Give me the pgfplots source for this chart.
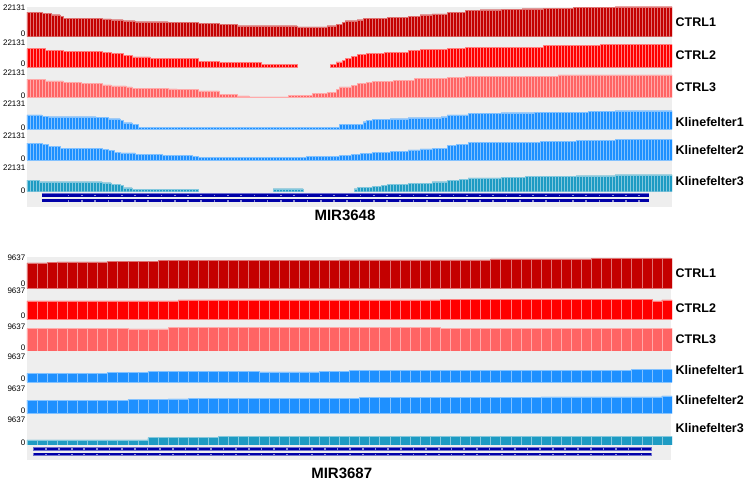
\documentclass[border=0pt]{standalone}
\usepackage{fontspec}
\setmainfont{Liberation Sans}
\usepackage{pgfplots}
\usepackage{pgfplotstable}
\pgfplotsset{compat=1.18}
\definecolor{cA}{HTML}{C40000}
\definecolor{cB}{HTML}{FF0000}
\definecolor{cC}{HTML}{FF6464}
\definecolor{cK}{HTML}{1E90FF}
\definecolor{cKt}{HTML}{1E9BC3}
\definecolor{bgray}{HTML}{EEEEEE}
\definecolor{navy}{HTML}{0000A8}
\definecolor{navyedge}{HTML}{7070D0}

% ---------- MIR3648 (215 bins) ----------
\pgfplotstableread[row sep=\\]{y\\
18220\\18220\\18220\\18220\\18220\\
17480\\17480\\17480\\
16230\\16230\\16230\\
14980\\
13790\\13790\\13790\\13790\\13790\\13790\\13790\\13790\\13790\\13790\\13790\\13790\\13790\\
13060\\13060\\13060\\
12540\\12540\\12540\\12540\\
11800\\11800\\11800\\11800\\
11070\\11070\\11070\\11070\\11070\\11070\\11070\\11070\\11070\\11070\\11070\\
10550\\10550\\10550\\10550\\10550\\10550\\10550\\10550\\10550\\10550\\
9810\\9810\\9810\\9810\\9810\\9810\\9810\\
9070\\9070\\9070\\9070\\9070\\9070\\
8110\\8110\\8110\\8110\\8110\\8110\\8110\\8110\\8110\\8110\\8110\\8110\\8110\\8110\\8110\\8110\\8110\\8110\\8110\\8110\\
7160\\7160\\7160\\7160\\7160\\7160\\7160\\7160\\7160\\7160\\
8110\\8110\\8110\\
9070\\9070\\
10550\\
11800\\11800\\11800\\11800\\
12540\\12540\\
13500\\13500\\13500\\13500\\13500\\13500\\13500\\13500\\
14240\\14240\\14240\\14240\\14240\\14240\\14240\\
14980\\14980\\14980\\14980\\
16230\\16230\\16230\\16230\\
16750\\16750\\16750\\16750\\16750\\
18220\\18220\\18220\\18220\\18220\\18220\\
19400\\19400\\19400\\19400\\19400\\
19920\\19920\\19920\\19920\\19920\\19920\\19920\\
20430\\20430\\20430\\20430\\20430\\20430\\20430\\
20660\\20660\\20660\\20660\\20660\\20660\\20660\\
21170\\21170\\21170\\21170\\21170\\21170\\21170\\21170\\21170\\21170\\
21610\\21610\\21610\\21610\\21610\\21610\\21610\\21610\\21610\\21610\\21610\\21610\\21610\\21610\\
22131\\22131\\22131\\22131\\22131\\22131\\22131\\22131\\22131\\22131\\22131\\22131\\22131\\22131\\22131\\22131\\22131\\22131\\22131\\
}\tAa

\pgfplotstableread[row sep=\\]{y\\
13570\\13570\\13570\\13570\\13570\\13570\\
12320\\12320\\12320\\12320\\12320\\12320\\
11580\\11580\\11580\\11580\\11580\\11580\\11580\\11580\\11580\\11580\\11580\\11580\\11580\\
10620\\10620\\10620\\
9890\\9890\\9890\\9890\\
8630\\8630\\8630\\
7380\\7380\\7380\\7380\\7380\\7380\\
6420\\6420\\6420\\6420\\6420\\6420\\6420\\6420\\6420\\6420\\6420\\6420\\6420\\6420\\6420\\6420\\
4200\\4200\\4200\\4200\\4200\\4200\\4200\\
3470\\3470\\3470\\3470\\3470\\3470\\3470\\3470\\3470\\3470\\3470\\3470\\3470\\3470\\
1990\\1990\\1990\\1990\\1990\\1990\\1990\\1990\\1990\\1990\\1990\\1990\\
0\\0\\0\\0\\0\\0\\0\\0\\0\\0\\0\\
1990\\1990\\
3690\\3690\\
4940\\
6640\\6640\\
7890\\7890\\
9150\\9150\\9150\\
10110\\10110\\10110\\10110\\10110\\10110\\
10840\\10840\\10840\\10840\\10840\\10840\\10840\\10840\\
12100\\12100\\12100\\12100\\
12840\\12840\\12840\\12840\\12840\\12840\\12840\\12840\\12840\\
13790\\13790\\13790\\13790\\13790\\13790\\
14750\\14750\\14750\\14750\\14750\\14750\\14750\\14750\\14750\\14750\\14750\\14750\\14750\\14750\\14750\\14750\\14750\\14750\\14750\\14750\\14750\\14750\\14750\\14750\\14750\\14750\\
16010\\16010\\16010\\16010\\16010\\16010\\16010\\16010\\16010\\16010\\16010\\16010\\16010\\16010\\16010\\16010\\16010\\16010\\16010\\
16520\\16520\\16520\\16520\\16520\\16520\\16520\\16520\\16520\\16520\\16520\\16520\\16520\\16520\\16520\\16520\\16520\\16520\\16520\\16520\\16520\\16520\\16520\\16520\\
}\tAb

\pgfplotstableread[row sep=\\]{y\\
13570\\13570\\13570\\13570\\13570\\13570\\
12320\\12320\\12320\\12320\\12320\\12320\\
11070\\11070\\11070\\11070\\11070\\11070\\
10330\\10330\\10330\\10330\\10330\\10330\\10330\\
9370\\9370\\9370\\
8630\\8630\\8630\\8630\\8630\\
7890\\7890\\
6930\\6930\\6930\\6930\\6930\\6930\\6930\\6930\\6930\\6930\\6930\\6930\\
6420\\6420\\6420\\
6200\\6200\\6200\\6200\\6200\\6200\\6200\\
4940\\4940\\4940\\4940\\4940\\4940\\4940\\
2510\\2510\\2510\\2510\\2510\\2510\\
1250\\1250\\1250\\1250\\
520\\520\\520\\520\\520\\520\\520\\520\\520\\520\\520\\520\\520\\
1770\\1770\\1770\\1770\\1770\\1770\\1770\\1770\\
2950\\2950\\2950\\2950\\2950\\
3980\\3980\\3980\\
6200\\
7890\\7890\\7890\\7890\\
8850\\8850\\
10330\\10330\\10330\\
11360\\11360\\
12100\\12100\\12100\\12100\\12100\\12100\\12100\\
12840\\12840\\12840\\12840\\12840\\12840\\12840\\
14020\\14020\\14020\\14020\\14020\\14020\\14020\\14020\\14020\\14020\\14020\\
14750\\14750\\14750\\14750\\14750\\14750\\
15790\\15790\\15790\\15790\\15790\\15790\\15790\\15790\\15790\\15790\\15790\\15790\\15790\\15790\\15790\\15790\\15790\\15790\\15790\\15790\\15790\\15790\\15790\\15790\\15790\\15790\\15790\\15790\\15790\\15790\\15790\\
16750\\16750\\16750\\16750\\16750\\16750\\16750\\16750\\16750\\16750\\16750\\16750\\16750\\16750\\16750\\16750\\16750\\16750\\16750\\16750\\16750\\16750\\16750\\16750\\16750\\16750\\16750\\16750\\16750\\16750\\16750\\16750\\16750\\16750\\16750\\16750\\16750\\16750\\
}\tAc

\pgfplotstableread[row sep=\\]{y\\
10330\\10330\\10330\\10330\\10330\\
9590\\9590\\
9070\\9070\\9070\\9070\\9070\\9070\\9070\\9070\\9070\\9070\\9070\\9070\\9070\\9070\\9070\\9070\\
8630\\8630\\8630\\8630\\
7600\\7600\\7600\\7600\\
6640\\
4650\\4650\\4650\\
3470\\3470\\
1250\\1250\\1250\\1250\\1250\\1250\\1250\\1250\\1250\\1250\\1250\\1250\\1250\\1250\\1250\\1250\\1250\\1250\\1250\\1250\\
1250\\1250\\1250\\1250\\1250\\1250\\1250\\1250\\1250\\1250\\1250\\1250\\1250\\1250\\1250\\1250\\1250\\1250\\1250\\1250\\
1250\\1250\\1250\\1250\\1250\\1250\\1250\\1250\\1250\\1250\\1250\\1250\\1250\\1250\\1250\\1250\\1250\\1250\\1250\\1250\\
1250\\1250\\1250\\1250\\1250\\1250\\1250\\
3470\\3470\\3470\\3470\\3470\\3470\\3470\\3470\\
5390\\
6420\\6420\\
7160\\7160\\7160\\7160\\7160\\7160\\
7600\\7600\\7600\\7600\\7600\\7600\\
8340\\8340\\8340\\8340\\8340\\8340\\8340\\8340\\8340\\8340\\8340\\
9070\\9070\\
10330\\10330\\10330\\10330\\10330\\10330\\10330\\
11580\\11580\\11580\\11580\\11580\\11580\\11580\\11580\\11580\\11580\\11580\\
12020\\12020\\12020\\12020\\12020\\12020\\12020\\12020\\12020\\12020\\12020\\
12540\\12540\\12540\\12540\\12540\\12540\\12540\\12540\\12540\\12540\\12540\\12540\\12540\\12540\\12540\\12540\\12540\\12540\\
13060\\13060\\13060\\13060\\13060\\13060\\13060\\13060\\13060\\
13500\\13500\\13500\\13500\\13500\\13500\\13500\\13500\\13500\\13500\\13500\\13500\\13500\\13500\\13500\\13500\\13500\\13500\\13500\\
}\tAd

\pgfplotstableread[row sep=\\]{y\\
12760\\12760\\12760\\12760\\12760\\
11800\\11800\\
10550\\10550\\10550\\10550\\
8630\\8630\\8630\\8630\\8630\\8630\\8630\\8630\\8630\\8630\\8630\\8630\\8630\\8630\\
7890\\7890\\
7380\\7380\\
6120\\6120\\
5390\\5390\\5390\\5390\\5390\\
4200\\4200\\4200\\4200\\4200\\4200\\4200\\4200\\4200\\
3690\\3690\\3690\\3690\\3690\\3690\\3690\\3690\\3690\\3690\\
2950\\2950\\
1990\\1990\\1990\\1990\\1990\\1990\\1990\\1990\\1990\\1990\\1990\\1990\\1990\\1990\\1990\\1990\\1990\\1990\\
1990\\1990\\1990\\1990\\1990\\1990\\1990\\1990\\1990\\1990\\1990\\1990\\1990\\1990\\1990\\1990\\1990\\1990\\
2950\\2950\\2950\\2950\\2950\\2950\\2950\\2950\\2950\\2950\\2950\\
3690\\3690\\3690\\3690\\
4430\\4430\\4430\\
5160\\5160\\5160\\5160\\
6120\\6120\\6120\\6120\\6120\\6120\\
6860\\6860\\6860\\6860\\6860\\6860\\
7600\\7600\\7600\\7600\\
8340\\8340\\8340\\8340\\
9070\\9070\\9070\\9070\\9070\\
11070\\11070\\11070\\
12020\\12020\\12020\\12020\\
13060\\13060\\13060\\13060\\13060\\13060\\13060\\13060\\13060\\13060\\13060\\
13280\\13280\\13280\\13280\\13280\\13280\\13280\\13280\\13280\\13280\\13280\\13280\\13280\\
14020\\14020\\14020\\14020\\14020\\14020\\14020\\14020\\14020\\14020\\14020\\14020\\
14530\\14530\\14530\\14530\\14530\\14530\\14530\\14530\\14530\\14530\\14530\\14530\\14530\\
15270\\15270\\15270\\15270\\15270\\15270\\15270\\15270\\15270\\15270\\15270\\15270\\15270\\15270\\15270\\15270\\15270\\15270\\15270\\
}\tAe

\pgfplotstableread[row sep=\\]{y\\
8630\\8630\\8630\\8630\\
7380\\7380\\7380\\7380\\7380\\7380\\7380\\7380\\7380\\7380\\7380\\7380\\7380\\7380\\7380\\7380\\7380\\7380\\7380\\7380\\7380\\
6640\\6640\\6640\\
5680\\5680\\5680\\
4940\\
2950\\2950\\2950\\
1770\\1770\\1770\\1770\\1770\\1770\\1770\\1770\\1770\\1770\\1770\\1770\\1770\\1770\\1770\\1770\\1770\\1770\\1770\\1770\\1770\\1770\\
0\\0\\0\\0\\0\\0\\0\\0\\0\\0\\0\\0\\0\\0\\0\\0\\0\\0\\0\\0\\0\\0\\0\\0\\0\\
2210\\2210\\2210\\2210\\2210\\2210\\2210\\2210\\2210\\2210\\
0\\0\\0\\0\\0\\0\\0\\0\\0\\0\\0\\0\\0\\0\\0\\0\\0\\
2210\\
3250\\3250\\3250\\3250\\3250\\
4200\\4200\\4200\\
4940\\4940\\
5680\\5680\\5680\\5680\\5680\\5680\\5680\\
6120\\6120\\6120\\6120\\6120\\6120\\6120\\6120\\
7380\\7380\\7380\\7380\\7380\\
8630\\8630\\8630\\8630\\
9070\\9070\\9070\\
10110\\10110\\10110\\10110\\10110\\10110\\10110\\10110\\10110\\10110\\10110\\
10550\\10550\\10550\\10550\\10550\\10550\\10550\\10550\\
11290\\11290\\11290\\11290\\11290\\11290\\11290\\11290\\11290\\11290\\11290\\11290\\11290\\11290\\11290\\11290\\11290\\
11800\\11800\\11800\\11800\\11800\\11800\\11800\\11800\\11800\\11800\\11800\\11800\\11800\\
12540\\12540\\12540\\12540\\12540\\12540\\12540\\12540\\12540\\12540\\12540\\12540\\12540\\12540\\12540\\12540\\12540\\12540\\12540\\
}\tAf

% ---------- MIR3687 (64 bins) ----------
\pgfplotstableread[row sep=\\]{y\\
7810\\7810\\7930\\8110\\8110\\8110\\8110\\8110\\
8330\\8330\\8330\\8330\\8330\\8540\\8540\\8540\\8540\\8540\\8540\\8540\\
8630\\8630\\8630\\8630\\8630\\8630\\8630\\8630\\8630\\8630\\8630\\
8780\\8780\\8780\\8780\\8780\\8780\\8780\\8780\\8780\\8780\\8780\\8780\\8780\\8780\\8780\\
9030\\9030\\9030\\9030\\9030\\9030\\9030\\9030\\9030\\9030\\
9150\\9150\\9150\\9150\\9150\\9150\\9150\\9150\\
}\tBa
\pgfplotstableread[row sep=\\]{y\\
5800\\5800\\5800\\5800\\5800\\5800\\5800\\5800\\5800\\5800\\5800\\5800\\5800\\5800\\5800\\
6100\\6100\\6100\\6100\\6100\\6100\\6100\\6100\\6100\\6100\\6100\\6100\\6100\\6100\\6100\\6100\\6100\\6100\\6100\\6100\\6100\\6100\\6100\\6100\\6100\\6100\\
6310\\6310\\6310\\6310\\6310\\6310\\6310\\6310\\6310\\6310\\6310\\6310\\6310\\6310\\6310\\6310\\6310\\6310\\6310\\6310\\6310\\
5800\\6100\\
}\tBb
\pgfplotstableread[row sep=\\]{y\\
6830\\6830\\6830\\6830\\6830\\6830\\6830\\6830\\6830\\6830\\
6750\\6750\\6750\\6750\\
7140\\7140\\7140\\7140\\7140\\7140\\7140\\7140\\7140\\7140\\7140\\7140\\7140\\7140\\7140\\7140\\7140\\7140\\7140\\7140\\7140\\7140\\7140\\7140\\7140\\7140\\7140\\
6920\\6920\\6920\\6920\\6920\\6920\\6920\\6920\\6920\\6920\\6920\\6920\\6920\\6920\\6920\\6920\\6920\\6920\\6920\\6920\\6920\\6920\\6920\\
}\tBc
\pgfplotstableread[row sep=\\]{y\\
2750\\2750\\2750\\2750\\2750\\2750\\2750\\2750\\
3050\\3050\\3050\\3050\\
3260\\3260\\3260\\3260\\3260\\3260\\3260\\3260\\3260\\3260\\3260\\
3200\\3200\\3200\\3200\\3200\\3200\\
3350\\3350\\3350\\
3560\\3560\\3560\\3560\\3560\\3560\\3560\\3560\\3560\\3560\\3560\\3560\\3560\\3560\\3560\\3560\\3560\\3560\\3560\\
3660\\3660\\3660\\3660\\3660\\3660\\3660\\3660\\3660\\
3870\\3870\\3870\\3870\\
}\tBd
\pgfplotstableread[row sep=\\]{y\\
4090\\4090\\4090\\4090\\4090\\4090\\4090\\4090\\4090\\4090\\
4270\\4270\\4270\\4270\\
4480\\4480\\
4580\\4580\\4580\\4580\\4580\\4580\\
4700\\4700\\4700\\4700\\4700\\4700\\4700\\4700\\4700\\4700\\4700\\
5000\\5000\\5000\\5000\\5000\\5000\\5000\\5000\\5000\\5000\\5000\\5000\\5000\\5000\\5000\\5000\\5000\\5000\\
5090\\5090\\5090\\5090\\5090\\5090\\5090\\5090\\5090\\5090\\5090\\5090\\
5400\\
}\tBe
\pgfplotstableread[row sep=\\]{y\\
1530\\1530\\1530\\1530\\1530\\1530\\1530\\1530\\1530\\1530\\1530\\1530\\
2230\\2230\\2230\\2230\\2230\\2230\\2230\\
2590\\2590\\2590\\2590\\2590\\2590\\2590\\2590\\2590\\2590\\2590\\2590\\2590\\2590\\2590\\
2590\\2590\\2590\\2590\\2590\\2590\\2590\\2590\\2590\\2590\\2590\\2590\\2590\\2590\\2590\\
2590\\2590\\2590\\2590\\2590\\2590\\2590\\2590\\2590\\2590\\2590\\2590\\2590\\2590\\2590\\
}\tBf

% gene-model strand marks: x position (px along panel), row A and row B heights
\pgfplotstableread{
x a b
68.3 8.7 3.5
81.6 8.7 3.5
94.8 8.7 3.5
108.1 8.7 3.5
121.4 8.7 3.5
134.7 8.7 3.5
147.9 8.7 3.5
161.2 8.7 3.5
174.5 8.7 3.5
187.7 8.7 3.5
201.0 8.7 3.5
214.3 8.7 3.5
227.5 8.7 3.5
240.8 8.7 3.5
254.1 8.7 3.5
267.3 8.7 3.5
280.6 8.7 3.5
293.9 8.7 3.5
307.2 8.7 3.5
320.4 8.7 3.5
333.7 8.7 3.5
347.0 8.7 3.5
360.2 8.7 3.5
373.5 8.7 3.5
386.8 8.7 3.5
400.0 8.7 3.5
413.3 8.7 3.5
426.6 8.7 3.5
439.9 8.7 3.5
453.1 8.7 3.5
466.4 8.7 3.5
479.7 8.7 3.5
492.9 8.7 3.5
506.2 8.7 3.5
519.5 8.7 3.5
532.7 8.7 3.5
546.0 8.7 3.5
559.3 8.7 3.5
572.5 8.7 3.5
585.8 8.7 3.5
599.1 8.7 3.5
612.4 8.7 3.5
625.6 8.7 3.5
638.9 8.7 3.5
}\gA
\pgfplotstableread{
x a b
46.0 10 4.7
58.6 10 4.7
71.3 10 4.7
83.9 10 4.7
96.6 10 4.7
109.2 10 4.7
121.8 10 4.7
134.5 10 4.7
147.1 10 4.7
159.8 10 4.7
172.4 10 4.7
185.0 10 4.7
197.7 10 4.7
210.3 10 4.7
223.0 10 4.7
235.6 10 4.7
248.2 10 4.7
260.9 10 4.7
273.5 10 4.7
286.2 10 4.7
298.8 10 4.7
311.4 10 4.7
324.1 10 4.7
336.7 10 4.7
349.4 10 4.7
362.0 10 4.7
374.6 10 4.7
387.3 10 4.7
399.9 10 4.7
412.6 10 4.7
425.2 10 4.7
437.8 10 4.7
450.5 10 4.7
463.1 10 4.7
475.8 10 4.7
488.4 10 4.7
501.0 10 4.7
513.7 10 4.7
526.3 10 4.7
539.0 10 4.7
551.6 10 4.7
564.2 10 4.7
576.9 10 4.7
589.5 10 4.7
602.2 10 4.7
614.8 10 4.7
627.4 10 4.7
640.1 10 4.7
}\gB

\pgfplotsset{
  trk/.style={scale only axis, width=645pt, axis lines=none, ticks=none,
    anchor=south west, enlargelimits=false, ymin=0},
  topt/.style={trk, height=30pt, xmin=-0.5, xmax=214.5, ymax=22131},
  bott/.style={trk, height=31.3pt, xmin=-0.5, xmax=63.5, ymax=9637},
  bars/.style={ybar, bar width=1, bar shift=0pt, line width=0.35pt,
    restrict y to domain=1:100000},
  strand/.style={only marks, mark=square*, mark size=0.35pt, color=white!55!navy},
}
\newcommand{\nl}[2]{\node[anchor=east, inner sep=0pt, font=\fontsize{8}{9}\selectfont] at (25.5pt,-#1pt) {#2};}
\newcommand{\tl}[2]{\node[anchor=west, inner sep=0pt, font=\bfseries\fontsize{12.5}{14}\selectfont] at (675.5pt,-#1pt) {#2};}

\begin{document}
\begin{tikzpicture}
\useasboundingbox (0pt,0pt) rectangle (750pt,-482pt);
\fill[bgray] (27pt,-6.7pt) rectangle (672pt,-206.7pt);
\fill[bgray] (27pt,-256.7pt) rectangle (671pt,-460pt);

% ---- MIR3648 tracks ----
\begin{axis}[topt, at={(27pt,-36.7pt)}]
\addplot[bars, fill=cA, draw=cA!55!white] table[x expr=\coordindex, y=y]{\tAa};
\end{axis}
\begin{axis}[topt, at={(27pt,-67pt)}]
\addplot[bars, fill=cB, draw=cB!50!white] table[x expr=\coordindex, y=y]{\tAb};
\end{axis}
\begin{axis}[topt, at={(27pt,-97.5pt)}]
\addplot[bars, fill=cC, draw=cC!55!white] table[x expr=\coordindex, y=y]{\tAc};
\end{axis}
\begin{axis}[topt, at={(27pt,-129pt)}]
\addplot[bars, fill=cK, draw=cK!55!white] table[x expr=\coordindex, y=y]{\tAd};
\end{axis}
\begin{axis}[topt, at={(27pt,-160.3pt)}]
\addplot[bars, fill=cK, draw=cK!55!white] table[x expr=\coordindex, y=y]{\tAe};
\end{axis}
\begin{axis}[topt, at={(27pt,-191.7pt)}]
\addplot[bars, fill=cKt, draw=cKt!55!white] table[x expr=\coordindex, y=y]{\tAf};
\end{axis}
\begin{axis}[trk, at={(27pt,-204pt)}, height=11.5pt, xmin=27, xmax=672, ymax=11.5]
\addplot[navyedge, line width=4pt] coordinates {(41.7,8.7) (649,8.7)};
\addplot[navy, line width=3pt] coordinates {(42.2,8.7) (648.5,8.7)};
\addplot[navyedge, line width=3.6pt] coordinates {(41.7,3.5) (649,3.5)};
\addplot[navy, line width=2.6pt] coordinates {(42.2,3.5) (648.5,3.5)};
\addplot[strand] table[x=x, y=a]{\gA};
\addplot[strand] table[x=x, y=b]{\gA};
\end{axis}

% ---- MIR3687 tracks ----
\begin{axis}[bott, at={(27pt,-288.3pt)}]
\addplot[bars, fill=cA, draw=cA!55!white, line width=0.5pt] table[x expr=\coordindex, y=y]{\tBa};
\end{axis}
\begin{axis}[bott, at={(27pt,-319.6pt)}]
\addplot[bars, fill=cB, draw=cB!50!white, line width=0.5pt] table[x expr=\coordindex, y=y]{\tBb};
\end{axis}
\begin{axis}[bott, at={(27pt,-350.9pt)}]
\addplot[bars, fill=cC, draw=cC!55!white, line width=0.5pt] table[x expr=\coordindex, y=y]{\tBc};
\end{axis}
\begin{axis}[bott, at={(27pt,-382.2pt)}]
\addplot[bars, fill=cK, draw=cK!55!white, line width=0.5pt] table[x expr=\coordindex, y=y]{\tBd};
\end{axis}
\begin{axis}[bott, at={(27pt,-413.5pt)}]
\addplot[bars, fill=cK, draw=cK!55!white, line width=0.5pt] table[x expr=\coordindex, y=y]{\tBe};
\end{axis}
\begin{axis}[bott, at={(27pt,-444.8pt)}]
\addplot[bars, fill=cKt, draw=cKt!55!white, line width=0.5pt] table[x expr=\coordindex, y=y]{\tBf};
\end{axis}
\begin{axis}[trk, at={(27pt,-459pt)}, height=13pt, xmin=27, xmax=671, ymax=13]
\addplot[navyedge, line width=3.4pt] coordinates {(33.3,10) (650.7,10)};
\addplot[navy, line width=2.4pt] coordinates {(33.8,10) (650.2,10)};
\addplot[navyedge, line width=3.3pt] coordinates {(33.3,4.7) (650.7,4.7)};
\addplot[navy, line width=2.3pt] coordinates {(33.8,4.7) (650.2,4.7)};
\addplot[strand] table[x=x, y=a]{\gB};
\addplot[strand] table[x=x, y=b]{\gB};
\end{axis}

% ---- scale labels ----
\nl{7.5}{22131}\nl{34}{0}
\nl{42.5}{22131}\nl{64}{0}
\nl{72.5}{22131}\nl{95.5}{0}
\nl{104}{22131}\nl{127.5}{0}
\nl{136}{22131}\nl{159}{0}
\nl{167.5}{22131}\nl{190.3}{0}
\nl{257.3}{9637}\nl{283.8}{0}
\nl{290.7}{9637}\nl{315.7}{0}
\nl{326.7}{9637}\nl{347.7}{0}
\nl{356.7}{9637}\nl{379}{0}
\nl{388.3}{9637}\nl{410.7}{0}
\nl{420}{9637}\nl{442.3}{0}

% ---- track names ----
\tl{21.7}{CTRL1}\tl{55}{CTRL2}\tl{87.3}{CTRL3}
\tl{121.7}{Klinefelter1}\tl{150}{Klinefelter2}\tl{180.7}{Klinefelter3}
\tl{273.3}{CTRL1}\tl{308.3}{CTRL2}\tl{339.3}{CTRL3}
\tl{370}{Klinefelter1}\tl{400}{Klinefelter2}\tl{428.3}{Klinefelter3}

% ---- gene names ----
\node[font=\bfseries\fontsize{15}{17}\selectfont, inner sep=0pt] at (345pt,-215.5pt) {MIR3648};
\node[font=\bfseries\fontsize{15}{17}\selectfont, inner sep=0pt] at (341.7pt,-473pt) {MIR3687};
\end{tikzpicture}
\end{document}
